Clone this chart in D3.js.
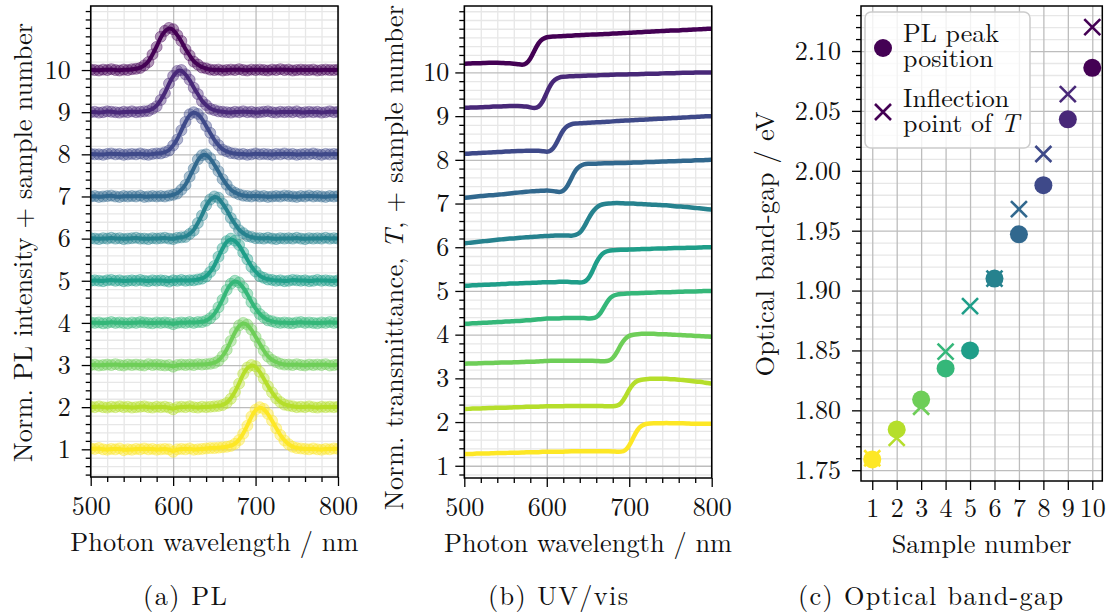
<!DOCTYPE html>
<html>
<head>
<meta charset="utf-8">
<script src="https://cdn.jsdelivr.net/npm/d3@7"></script>
<style>
   body { margin: 0; background: #fff; }
   svg text { font-family: "Latin Modern Roman", "Liberation Serif", serif; fill: #111; white-space: pre; }
</style>
</head>
<body>
<svg id="chart" width="1108" height="614"></svg>
<script>

// SAMPLE NUMBERS
var samples = [1, 2, 3, 4, 5, 6, 7, 8, 9, 10];

// PHOTON WAVELENGTH GRID / nm
var wavelength = [500,505,510,515,520,525,530,535,540,545,550,555,560,565,570,575,580,585,590,595,
   600,605,610,615,620,625,630,635,640,645,650,655,660,665,670,675,680,685,690,695,
   700,705,710,715,720,725,730,735,740,745,750,755,760,765,770,775,780,785,790,795,800];

// NORMALISED PL INTENSITY PER SAMPLE
var pl_1 = [0.02,0.01,0.03,0.00,-0.01,0.01,0.00,0.02,-0.02,0.00,-0.01,0.01,0.00,0.02,0.00,0.01,-0.01,0.00,0.01,0.00,
   -0.06,0.00,0.01,0.00,0.02,-0.01,0.00,0.01,0.02,0.03,0.03,0.04,0.05,0.06,0.08,0.13,0.22,0.37,0.56,0.78,
   0.94,1.00,0.96,0.84,0.68,0.50,0.34,0.21,0.12,0.06,0.03,0.02,0.01,0.00,0.02,0.00,-0.01,0.01,0.00,0.02,0.01];
var pl_2 = [0.01,0.00,0.02,0.00,-0.01,0.01,0.00,0.02,0.00,0.01,-0.01,0.00,0.01,0.02,0.00,-0.01,0.01,0.00,0.01,-0.01,
   -0.05,0.00,0.01,0.00,0.02,0.00,-0.01,0.01,0.00,0.01,0.02,0.03,0.05,0.10,0.20,0.36,0.56,0.79,0.94,1.00,
   0.97,0.84,0.68,0.50,0.35,0.21,0.12,0.06,0.04,0.02,0.00,0.01,0.00,0.02,0.00,-0.01,0.01,0.00,0.01,0.00,0.01];
var pl_3 = [0.00,0.01,-0.01,0.00,0.01,0.00,0.02,0.00,-0.01,0.01,0.00,0.01,0.00,-0.01,0.02,0.00,0.01,0.00,-0.01,0.00,
   -0.04,0.00,0.01,0.00,0.01,0.00,0.02,0.01,0.02,0.03,0.05,0.10,0.21,0.36,0.57,0.78,0.94,1.00,0.96,0.84,
   0.67,0.51,0.34,0.20,0.12,0.07,0.03,0.01,0.01,0.00,0.02,0.00,-0.01,0.01,0.00,0.01,0.00,0.02,-0.01,0.00,0.01];
var pl_4 = [0.01,0.00,0.01,-0.01,0.00,0.02,0.00,0.01,0.00,-0.01,0.01,0.00,0.02,0.01,0.00,-0.01,0.01,0.00,0.01,0.00,
   -0.03,0.00,0.01,0.00,0.02,0.00,0.02,0.02,0.05,0.11,0.20,0.37,0.55,0.78,0.93,1.00,0.96,0.84,0.69,0.49,
   0.34,0.21,0.13,0.06,0.04,0.01,0.00,0.01,0.00,-0.01,0.01,0.02,0.00,0.01,0.00,-0.01,0.01,0.00,0.02,0.00,0.01];
var pl_5 = [0.00,0.01,0.00,-0.01,0.01,0.02,0.00,0.01,-0.01,0.00,0.01,0.00,0.02,0.00,-0.01,0.01,0.00,0.01,0.00,-0.02,
   0.01,0.00,0.02,0.00,0.01,0.01,0.03,0.05,0.10,0.21,0.35,0.57,0.77,0.94,1.00,0.95,0.85,0.67,0.51,0.33,
   0.22,0.11,0.07,0.03,0.02,0.00,0.01,-0.01,0.00,0.02,0.01,0.00,0.01,-0.01,0.00,0.02,0.00,0.01,0.00,-0.01,0.01];
var pl_6 = [0.01,0.00,-0.01,0.01,0.00,0.02,0.00,0.01,-0.01,0.00,0.01,0.02,0.00,0.00,-0.01,0.01,0.00,0.01,0.02,0.00,
   -0.01,0.02,0.03,0.04,0.11,0.19,0.37,0.55,0.79,0.93,1.00,0.97,0.83,0.69,0.49,0.35,0.20,0.13,0.06,0.04,
   0.01,0.01,0.00,0.02,0.00,-0.01,0.01,0.00,0.01,0.00,0.02,0.00,-0.01,0.01,0.00,0.01,0.00,0.02,0.00,0.01,0.00];
var pl_7 = [0.00,0.01,-0.01,0.00,0.01,0.02,0.00,-0.01,0.01,0.00,0.01,0.00,0.02,-0.01,0.00,0.01,0.00,0.01,0.00,0.02,
   0.04,0.07,0.16,0.27,0.47,0.66,0.88,0.98,1.00,0.91,0.75,0.60,0.41,0.28,0.15,0.09,0.05,0.02,0.01,0.00,
   0.02,0.00,0.01,-0.01,0.00,0.01,0.00,0.02,0.01,0.00,-0.01,0.01,0.00,0.02,0.00,0.01,0.00,-0.01,0.01,0.00,0.01];
var pl_8 = [0.01,0.00,0.00,-0.01,0.01,0.02,0.00,0.01,-0.01,0.00,0.01,0.00,0.02,0.00,-0.01,0.01,0.02,0.02,0.05,0.09,
   0.21,0.35,0.57,0.77,0.95,1.00,0.96,0.85,0.67,0.51,0.33,0.22,0.11,0.07,0.03,0.02,0.00,0.01,-0.01,0.00,
   0.02,0.00,0.01,0.00,-0.01,0.01,0.00,0.02,0.00,0.01,-0.01,0.00,0.01,0.00,0.02,0.00,-0.01,0.01,0.00,0.01,0.00];
var pl_9 = [0.00,0.01,-0.01,0.00,0.02,0.01,0.00,-0.01,0.01,0.00,0.02,0.00,0.01,0.02,0.03,0.08,0.14,0.29,0.45,0.68,
   0.86,0.98,1.00,0.90,0.77,0.58,0.43,0.26,0.17,0.08,0.05,0.02,0.01,0.00,-0.01,0.01,0.00,0.02,0.00,0.01,
   -0.01,0.00,0.01,0.02,0.00,-0.01,0.01,0.00,0.01,0.00,0.02,-0.01,0.00,0.01,0.00,0.01,-0.01,0.00,0.02,0.00,0.01];
var pl_10 = [0.01,0.00,-0.01,0.01,0.00,0.02,0.00,-0.01,0.01,0.00,0.02,0.03,0.05,0.11,0.19,0.37,0.55,0.79,0.93,1.00,
   0.97,0.83,0.69,0.49,0.35,0.20,0.13,0.06,0.04,0.01,0.00,0.01,-0.01,0.00,0.01,0.00,0.02,0.00,-0.01,0.01,
   0.00,0.01,0.00,-0.01,0.01,0.00,0.02,0.00,0.01,-0.01,0.00,0.01,0.00,0.00,0.01,-0.01,0.00,0.01,0.00,0.00,0.01];
var pl = [pl_1, pl_2, pl_3, pl_4, pl_5, pl_6, pl_7, pl_8, pl_9, pl_10];

// NORMALISED TRANSMITTANCE PER SAMPLE
var uv_1 = [0.27,0.27,0.27,0.28,0.28,0.28,0.28,0.29,0.29,0.29,0.29,0.30,0.30,0.30,0.30,0.31,0.31,0.31,0.31,0.32,
   0.32,0.32,0.32,0.32,0.32,0.33,0.33,0.33,0.33,0.33,0.33,0.33,0.33,0.33,0.33,0.33,0.33,0.32,0.32,0.34,
   0.45,0.65,0.83,0.92,0.96,0.97,0.97,0.97,0.97,0.98,0.97,0.97,0.97,0.97,0.97,0.96,0.96,0.96,0.96,0.96,0.96];
var uv_2 = [0.30,0.30,0.31,0.31,0.31,0.32,0.32,0.32,0.33,0.33,0.33,0.33,0.34,0.34,0.34,0.35,0.35,0.35,0.35,0.36,
   0.36,0.36,0.36,0.36,0.36,0.37,0.37,0.37,0.37,0.37,0.37,0.37,0.37,0.37,0.36,0.36,0.36,0.37,0.42,0.56,
   0.75,0.88,0.95,0.97,0.98,0.99,0.99,0.99,0.99,0.99,0.98,0.98,0.97,0.96,0.95,0.94,0.93,0.92,0.91,0.89,0.88];
var uv_3 = [0.33,0.34,0.34,0.34,0.35,0.35,0.35,0.35,0.36,0.36,0.36,0.36,0.37,0.37,0.37,0.38,0.38,0.38,0.39,0.39,
   0.40,0.40,0.40,0.40,0.40,0.40,0.40,0.40,0.40,0.40,0.40,0.40,0.40,0.39,0.39,0.40,0.45,0.59,0.78,0.91,
   0.98,1.00,1.01,1.02,1.02,1.02,1.02,1.01,1.01,1.01,1.00,1.00,0.99,0.99,0.98,0.98,0.97,0.97,0.96,0.96,0.95];
var uv_4 = [0.25,0.25,0.26,0.26,0.27,0.27,0.28,0.28,0.29,0.29,0.30,0.30,0.31,0.31,0.32,0.33,0.33,0.34,0.35,0.36,
   0.37,0.37,0.37,0.37,0.38,0.38,0.38,0.38,0.38,0.38,0.37,0.37,0.39,0.48,0.65,0.81,0.89,0.92,0.93,0.94,
   0.94,0.95,0.95,0.95,0.96,0.96,0.96,0.97,0.97,0.97,0.97,0.98,0.98,0.98,0.99,0.99,0.99,0.99,1.00,1.00,1.00];
var uv_5 = [0.12,0.12,0.13,0.13,0.14,0.14,0.14,0.15,0.15,0.16,0.16,0.17,0.17,0.17,0.18,0.18,0.18,0.19,0.19,0.20,
   0.20,0.20,0.20,0.21,0.21,0.21,0.20,0.20,0.19,0.20,0.26,0.43,0.66,0.81,0.89,0.92,0.93,0.94,0.94,0.94,
   0.95,0.95,0.95,0.96,0.96,0.96,0.97,0.97,0.97,0.97,0.98,0.98,0.98,0.98,0.99,0.99,0.99,0.99,1.00,1.00,1.00];
var uv_6 = [0.09,0.10,0.11,0.12,0.13,0.14,0.15,0.16,0.17,0.18,0.19,0.20,0.20,0.21,0.22,0.23,0.23,0.24,0.25,0.25,
   0.26,0.26,0.27,0.27,0.27,0.27,0.26,0.28,0.32,0.45,0.64,0.80,0.91,0.97,0.99,1.00,1.01,1.01,1.01,1.00,
   1.00,1.00,0.99,0.99,0.98,0.98,0.97,0.97,0.96,0.96,0.95,0.94,0.93,0.93,0.92,0.91,0.90,0.89,0.88,0.87,0.86];
var uv_7 = [0.13,0.14,0.15,0.16,0.17,0.18,0.19,0.19,0.20,0.21,0.22,0.23,0.24,0.25,0.26,0.27,0.28,0.28,0.29,0.29,
   0.30,0.29,0.28,0.26,0.28,0.39,0.59,0.77,0.86,0.90,0.91,0.91,0.91,0.92,0.92,0.92,0.92,0.93,0.93,0.93,
   0.93,0.94,0.94,0.94,0.95,0.95,0.95,0.96,0.96,0.96,0.97,0.97,0.97,0.98,0.98,0.98,0.99,0.99,0.99,1.00,1.00];
var uv_8 = [0.14,0.14,0.15,0.15,0.16,0.16,0.17,0.17,0.18,0.18,0.19,0.19,0.20,0.20,0.20,0.21,0.21,0.21,0.21,0.20,
   0.18,0.20,0.31,0.51,0.69,0.78,0.82,0.83,0.84,0.84,0.85,0.85,0.86,0.86,0.87,0.87,0.88,0.89,0.89,0.90,
   0.90,0.91,0.91,0.92,0.92,0.93,0.93,0.94,0.94,0.95,0.95,0.96,0.96,0.97,0.97,0.98,0.98,0.99,0.99,1.00,1.00];
var uv_9 = [0.19,0.19,0.20,0.20,0.20,0.21,0.21,0.22,0.22,0.22,0.23,0.23,0.23,0.23,0.23,0.22,0.20,0.18,0.20,0.32,
   0.54,0.74,0.84,0.89,0.90,0.91,0.91,0.92,0.92,0.92,0.93,0.93,0.93,0.94,0.94,0.94,0.95,0.95,0.95,0.95,
   0.96,0.96,0.96,0.96,0.97,0.97,0.97,0.97,0.98,0.98,0.98,0.98,0.99,0.99,0.99,0.99,1.00,1.00,1.00,1.00,1.00];
var uv_10 = [0.20,0.20,0.21,0.21,0.21,0.22,0.22,0.22,0.22,0.22,0.21,0.21,0.20,0.19,0.17,0.19,0.30,0.50,0.68,0.77,
   0.81,0.82,0.82,0.83,0.83,0.84,0.84,0.85,0.85,0.86,0.86,0.87,0.87,0.87,0.88,0.88,0.89,0.89,0.90,0.90,
   0.91,0.91,0.92,0.92,0.93,0.93,0.94,0.94,0.95,0.95,0.96,0.96,0.96,0.97,0.97,0.98,0.98,0.99,0.99,1.00,1.00];
var uv = [uv_1, uv_2, uv_3, uv_4, uv_5, uv_6, uv_7, uv_8, uv_9, uv_10];

// OPTICAL BAND-GAP / eV
var pl_peak = [1.759, 1.784, 1.809, 1.835, 1.850, 1.910, 1.947, 1.988, 2.043, 2.086];
var inflection = [1.760, 1.777, 1.803, 1.849, 1.887, 1.910, 1.968, 2.014, 2.064, 2.120];

// TICK LABELS
var wl_ticks = [500, 600, 700, 800];
var offset_ticks = [1, 2, 3, 4, 5, 6, 7, 8, 9, 10];
var gap_ticks = [1.75, 1.80, 1.85, 1.90, 1.95, 2.00, 2.05, 2.10];

// LAYOUT & STYLE SETTINGS
var settings = {
   family: '"Latin Modern Roman", "Liberation Serif", serif',
   font: 26,
   label: 26.3,
   pl: { left: 90.7, right: 338, top: 6, bottom: 477, ydomain: [0.343, 11.52], ypad: 11, xpad: 11 },
   uv: { left: 464.3, right: 711.7, top: 6, bottom: 478, ydomain: [0.72, 11.52], ypad: 6, xpad: 11 },
   gap: { left: 861, right: 1102.3, top: 6, bottom: 481, xdomain: [0.54, 10.41], ydomain: [1.741, 2.1376], ypad: 11, xpad: 9 },
   grid: { major: '#bdbdbd', minor: '#e7e7e7' }
};

var svg = d3.select('#chart');

// SAMPLE COLOUR -- VIRIDIS, SAMPLE 10 DARKEST
function viridis(n) { return d3.interpolateViridis((10 - n) / 9); }

// STYLE A TICK AXIS
function style_axis(sel) {
   sel.attr('font-family', settings.family).attr('font-size', settings.font);
   sel.select('.domain').remove();
   sel.selectAll('line').attr('stroke', '#000').attr('stroke-width', 1.3);
   sel.selectAll('text').style('font-family', settings.family);
}

// STYLE A GRID AXIS
function style_grid(sel, color) {
   sel.select('.domain').remove();
   sel.selectAll('line').attr('stroke', color).attr('stroke-width', 1.3);
}

// GRID + TICKS FOR ONE PANEL
function frame(box, x, y, ticks) {
   var w = box.right - box.left, h = box.bottom - box.top;
   var g = svg.append('g');

   // MINOR GRID
   if (ticks.xMinor) g.append('g').attr('transform', 'translate(0,' + box.bottom + ')')
      .call(d3.axisBottom(x).tickValues(ticks.xMinor).tickSize(-h).tickFormat(''))
      .call(style_grid, settings.grid.minor);
   g.append('g').attr('transform', 'translate(' + box.left + ',0)')
      .call(d3.axisLeft(y).tickValues(ticks.yMinor).tickSize(-w).tickFormat(''))
      .call(style_grid, settings.grid.minor);

   // MAJOR GRID
   g.append('g').attr('transform', 'translate(0,' + box.bottom + ')')
      .call(d3.axisBottom(x).tickValues(ticks.xMajor).tickSize(-h).tickFormat(''))
      .call(style_grid, settings.grid.major);
   g.append('g').attr('transform', 'translate(' + box.left + ',0)')
      .call(d3.axisLeft(y).tickValues(ticks.yMajor).tickSize(-w).tickFormat(''))
      .call(style_grid, settings.grid.major);

   // MINOR TICKS
   if (ticks.xMinor) svg.append('g').attr('transform', 'translate(0,' + box.bottom + ')')
      .call(d3.axisBottom(x).tickValues(ticks.xMinor).tickSize(5).tickFormat(''))
      .call(style_axis);
   svg.append('g').attr('transform', 'translate(' + box.left + ',0)')
      .call(d3.axisLeft(y).tickValues(ticks.yMinor).tickSize(5).tickFormat(''))
      .call(style_axis);

   // MAJOR TICKS + LABELS
   svg.append('g').attr('transform', 'translate(0,' + box.bottom + ')')
      .call(d3.axisBottom(x).tickValues(ticks.xMajor).tickSize(9).tickPadding(box.xpad).tickFormat(ticks.xFormat))
      .call(style_axis);
   svg.append('g').attr('transform', 'translate(' + box.left + ',0)')
      .call(d3.axisLeft(y).tickValues(ticks.yMajor).tickSize(9).tickPadding(box.ypad).tickFormat(ticks.yFormat))
      .call(style_axis);

   // CLIP AREA
   svg.append('clipPath').attr('id', ticks.id)
      .append('rect').attr('x', box.left).attr('y', box.top).attr('width', w).attr('height', h);
}

// PANEL BORDER
function spines(box) {
   svg.append('rect')
      .attr('x', box.left).attr('y', box.top)
      .attr('width', box.right - box.left).attr('height', box.bottom - box.top)
      .attr('fill', 'none').attr('stroke', '#000').attr('stroke-width', 1.5);
}

// TEXT LABEL WITH OPTIONAL ITALIC PARTS
function add_label(parts, x, y, length, rotate) {
   var t = svg.append('text')
      .attr('transform', 'translate(' + x + ',' + y + ')' + (rotate ? ' rotate(-90)' : ''))
      .attr('text-anchor', 'middle')
      .attr('font-size', settings.label)
      .attr('textLength', length)
      .attr('lengthAdjust', 'spacing')
      .style('font-family', settings.family);
   parts.forEach(p => {
      t.append('tspan').text(p[0]).attr('font-style', p[1] ? 'italic' : 'normal');
   });
}

// MINOR OFFSET TICKS EVERY 0.2
function offset_minor(domain) {
   return d3.range(0, 60).map(k => k / 5)
      .filter(v => v > domain[0] && v < domain[1] && !(Number.isInteger(v) && v >= 1 && v <= 10));
}

// PANEL (a) -- PL SPECTRA
function draw_pl() {
   var box = settings.pl;
   var x = d3.scaleLinear().domain([500, 800]).range([box.left, box.right]);
   var y = d3.scaleLinear().domain(box.ydomain).range([box.bottom, box.top]);

   frame(box, x, y, {
      id: 'clip-pl',
      xMajor: wl_ticks, xMinor: d3.range(500, 801, 20).filter(v => v % 100),
      yMajor: offset_ticks, yMinor: offset_minor(box.ydomain),
      xFormat: d3.format('d'), yFormat: d3.format('d')
   });

   var plot = svg.append('g').attr('clip-path', 'url(#clip-pl)');
   var line = d3.line().x((d, i) => x(wavelength[i])).y(d => y(d)).curve(d3.curveBasis);

   samples.forEach((n, k) => {
      var values = pl[k].map(v => v + n);
      var color = viridis(n);

      // MEASURED POINTS
      plot.selectAll('circle.pl-' + n)
         .data(values)
            .enter().append('circle')
               .attr('class', 'pl-' + n)
               .attr('cx', (d, i) => x(wavelength[i]))
               .attr('cy', d => y(d))
               .attr('r', 5.5)
               .attr('fill', color).attr('fill-opacity', 0.4)
               .attr('stroke', color).attr('stroke-opacity', 0.4).attr('stroke-width', 1)

      // SMOOTH CURVE
      plot.append('path')
         .attr('d', line(values))
         .attr('fill', 'none').attr('stroke', color).attr('stroke-width', 4)
         .attr('stroke-linejoin', 'round')
   });

   spines(box);
   add_label([['Photon wavelength / nm']], (box.left + box.right) / 2, 551, 288);
   add_label([['Norm. PL intensity + sample number']], 31.5, 242.5, 439, true);
   add_label([['(a) PL']], 185, 605, 84);
}

// PANEL (b) -- UV/VIS TRANSMITTANCE
function draw_uv() {
   var box = settings.uv;
   var x = d3.scaleLinear().domain([500, 800]).range([box.left, box.right]);
   var y = d3.scaleLinear().domain(box.ydomain).range([box.bottom, box.top]);

   frame(box, x, y, {
      id: 'clip-uv',
      xMajor: wl_ticks, xMinor: d3.range(500, 801, 20).filter(v => v % 100),
      yMajor: offset_ticks, yMinor: offset_minor(box.ydomain),
      xFormat: d3.format('d'), yFormat: d3.format('d')
   });

   var plot = svg.append('g').attr('clip-path', 'url(#clip-uv)');
   var line = d3.line().x((d, i) => x(wavelength[i])).y(d => y(d)).curve(d3.curveBasis);

   samples.forEach((n, k) => {
      plot.append('path')
         .attr('d', line(uv[k].map(v => v + n)))
         .attr('fill', 'none').attr('stroke', viridis(n)).attr('stroke-width', 4.5)
         .attr('stroke-linejoin', 'round')
   });

   spines(box);
   add_label([['Photon wavelength / nm']], (box.left + box.right) / 2, 552, 288);
   add_label([['Norm. transmittance, '], ['T', true], [', + sample number']], 403, 257.5, 505, true);
   add_label([['(b) UV/vis']], 558, 605, 140);
}

// PANEL (c) -- OPTICAL BAND-GAP
function draw_gap() {
   var box = settings.gap;
   var x = d3.scaleLinear().domain(box.xdomain).range([box.left, box.right]);
   var y = d3.scaleLinear().domain(box.ydomain).range([box.bottom, box.top]);

   frame(box, x, y, {
      id: 'clip-gap',
      xMajor: samples, xMinor: null,
      yMajor: gap_ticks, yMinor: d3.range(175, 214).filter(k => k % 5).map(k => k / 100),
      xFormat: d3.format('d'), yFormat: d3.format('.2f')
   });

   var s = 8;

   // INFLECTION POINTS (CROSSES)
   svg.append('g').selectAll('path')
      .data(samples)
         .enter().append('path')
            .attr('d', (n, i) => {
               var cx = x(n), cy = y(inflection[i]);
               return 'M' + (cx - s) + ',' + (cy - s) + 'L' + (cx + s) + ',' + (cy + s) +
                  'M' + (cx - s) + ',' + (cy + s) + 'L' + (cx + s) + ',' + (cy - s);
            })
            .attr('stroke', n => viridis(n)).attr('stroke-width', 2.6).attr('fill', 'none')

   // PL PEAK POSITIONS (CIRCLES)
   svg.append('g').selectAll('circle')
      .data(samples)
         .enter().append('circle')
            .attr('cx', n => x(n))
            .attr('cy', (n, i) => y(pl_peak[i]))
            .attr('r', 9)
            .attr('fill', n => viridis(n))

   spines(box);

   // LEGEND
   var lg = svg.append('g');
   lg.append('rect').attr('x', 865).attr('y', 12).attr('width', 165).attr('height', 136).attr('rx', 6)
      .attr('fill', '#fff').attr('fill-opacity', 0.8).attr('stroke', '#cccccc').attr('stroke-width', 1.5);
   lg.append('circle').attr('cx', 883).attr('cy', 48).attr('r', 9).attr('fill', viridis(10));
   lg.append('path')
      .attr('d', 'M' + (883 - s) + ',' + (112 - s) + 'L' + (883 + s) + ',' + (112 + s) +
         'M' + (883 - s) + ',' + (112 + s) + 'L' + (883 + s) + ',' + (112 - s))
      .attr('stroke', viridis(10)).attr('stroke-width', 2.6);

   // LEGEND ENTRIES -- TWO LINES EACH, ONE TEXT PER ENTRY
   var legend_entries = [
      { y: 42, lines: [[['PL peak']], [['position']]] },
      { y: 107, lines: [[['Inflection']], [['point of '], ['T', true]]] }
   ];
   legend_entries.forEach(entry => {
      var t = lg.append('text').attr('x', 903).attr('y', entry.y)
         .attr('font-size', settings.font)
         .style('font-family', settings.family);
      entry.lines.forEach((line, j) => {
         var row = t.append('tspan').attr('x', 903).attr('y', entry.y + j * 25);
         line.forEach(p => row.append('tspan').text(p[0]).attr('font-style', p[1] ? 'italic' : 'normal'));
      });
   });

   add_label([['Sample number']], (box.left + box.right) / 2, 553, 180);
   add_label([['Optical band-gap / eV']], 774, 244, 265, true);
   add_label([['(c) Optical band-gap']], 930.5, 605, 265);
}

draw_pl();
draw_uv();
draw_gap();

</script>
</body>
</html>
